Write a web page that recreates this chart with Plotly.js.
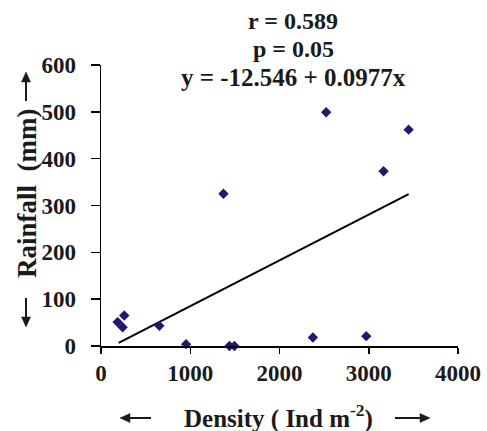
<!DOCTYPE html>
<html>
<head>
<meta charset="utf-8">
<script src="https://cdn.plot.ly/plotly-3.0.1.min.js"></script>
<style>html,body{margin:0;padding:0;background:#fff;}#chart{width:487px;height:431px;}</style>
</head>
<body>
<div id="chart"></div>
<script>
const density = [2523, 3447, 3166, 1372, 261, 186, 242, 654, 953, 1439, 1495, 2374, 2972];
const rainfall = [499, 462, 373, 325, 65, 51, 40, 43, 4, 0, 0, 18, 21];
const intercept = -12.546;
const slope = 0.0977;
const titleLines = ["r = 0.589", "p = 0.05", "y = -12.546 + 0.0977x"];
const xTitle = "Density ( Ind m<sup>-2</sup>)";
const yTitle = "Rainfall  (mm)";

const xmin = Math.min(...density) + 12;
const xmax = Math.max(...density);
const fitX = [xmin, xmax];
const fitY = fitX.map(v => intercept + slope * v);

const FAM = "Liberation Serif, Times New Roman, serif";
const INK = "#1a1a1a";

// plot area in pixels
const W = 487, H = 431, ML = 101, MR = 29, MT = 65, MB = 85;
const px2x = p => (p - ML) / (W - ML - MR);
const px2y = p => (H - MB - p) / (H - MT - MB);

const data = [
  {x: fitX, y: fitY, type: "scatter", mode: "lines", line: {color: "#000", width: 2}, hoverinfo: "skip", cliponaxis: false},
  {x: density, y: rainfall, type: "scatter", mode: "markers", cliponaxis: false,
   marker: {symbol: "diamond", size: 8, color: "#1e1a72"}}
];

function ann(text, x, y, size, angle) {
  return {xref: "paper", yref: "paper", x: px2x(x), y: px2y(y), xanchor: "center", yanchor: "middle",
    showarrow: false, text: text, textangle: angle || 0,
    font: {family: FAM, size: size, color: INK, weight: "bold"}};
}

// decorative arrows beside the axis titles: shaft + filled head, given in pixels
function arrowShapes(tx, ty, hx, hy) {
  const dx = hx - tx, dy = hy - ty, len = Math.hypot(dx, dy);
  const ux = dx / len, uy = dy / len, nx = -uy, ny = ux;
  const hl = 10, hw = 4.5;
  const bx = hx - ux * hl, by = hy - uy * hl;
  const P = (x, y) => px2x(x) + "," + px2y(y);
  return [
    {type: "line", xref: "paper", yref: "paper", x0: px2x(tx), y0: px2y(ty), x1: px2x(bx + ux), y1: px2y(by + uy),
     line: {color: INK, width: 2}},
    {type: "path", xref: "paper", yref: "paper",
     path: "M" + P(hx, hy) + " L" + P(bx + nx * hw, by + ny * hw) + " L" + P(bx - nx * hw, by - ny * hw) + " Z",
     fillcolor: INK, line: {color: INK, width: 0.5}}
  ];
}

const layout = {
  width: W, height: H,
  margin: {l: ML, r: MR, t: MT, b: MB},
  paper_bgcolor: "#fff", plot_bgcolor: "#fff",
  showlegend: false,
  font: {family: FAM, size: 20, color: INK},
  xaxis: {
    range: [0, 4000], dtick: 1000, tick0: 0,
    showgrid: false, zeroline: false, showline: true, linecolor: "#000", linewidth: 1.5,
    ticks: "outside", ticklen: 6, tickwidth: 1.5, tickcolor: "#000",
    ticklabelstandoff: 0,
    tickfont: {family: FAM, size: 23, color: INK, weight: "bold"}
  },
  yaxis: {
    range: [0, 600], dtick: 100, tick0: 0,
    showgrid: false, zeroline: false, showline: true, linecolor: "#000", linewidth: 1.5,
    ticks: "outside", ticklen: 9, tickwidth: 1.5, tickcolor: "#000",
    ticklabelstandoff: 10,
    tickfont: {family: FAM, size: 23, color: INK, weight: "bold"}
  },
  annotations: [
    ann(titleLines[0], 293, 21, 24),
    ann(titleLines[1], 293, 49, 24),
    ann(titleLines[2], 293, 77, 25),
    ann(xTitle, 278, 416, 25),
    ann(yTitle, 27, 194, 27, -90)
  ],
  shapes: [].concat(
    arrowShapes(151, 418, 120, 418),
    arrowShapes(395, 418, 430, 418),
    arrowShapes(26, 101, 26, 72),
    arrowShapes(26, 298, 26, 327)
  )
};

Plotly.newPlot("chart", data, layout, {displayModeBar: false, staticPlot: true});
</script>
</body>
</html>
